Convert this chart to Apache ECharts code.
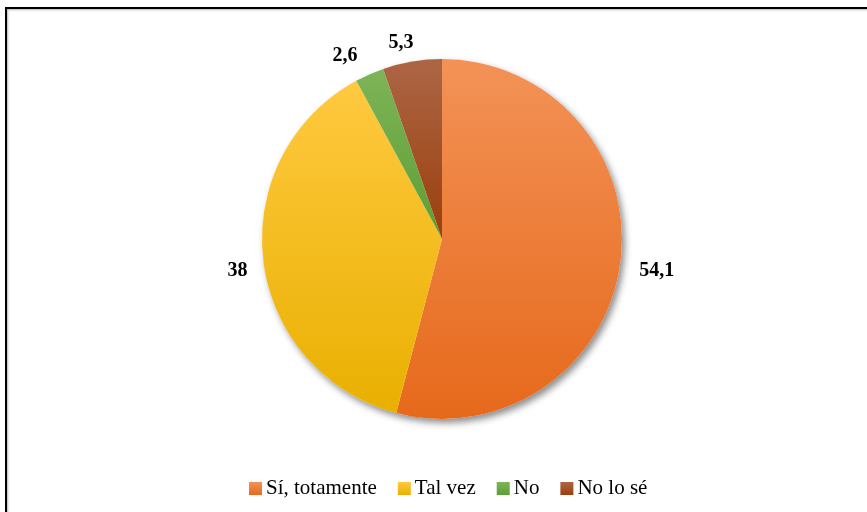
<!DOCTYPE html>
<html>
<head>
<meta charset="utf-8">
<script src="https://cdn.jsdelivr.net/npm/echarts@6/dist/echarts.min.js"></script>
<style>
  html, body { margin: 0; padding: 0; background: #fff; }
  #chart { width: 867px; height: 512px; }
  .fontwarm { position: absolute; left: -9999px; top: 0; font-family: 'Liberation Serif'; }
</style>
</head>
<body>
<span class="fontwarm">Sí, totamente <b>54,1</b></span>
<div id="chart"></div>
<script>
// Survey answers (percent), clockwise from 12 o'clock
const categories = ['Sí, totamente', 'Tal vez', 'No', 'No lo sé'];
const values = [54.1, 38, 2.6, 5.3];
const labelTexts = ['54,1', '38', '2,6', '5,3'];

// Top/bottom colour of each slice's vertical gradient
const topColors = ['#F39257', '#FFC940', '#7DB457', '#AC6645'];
const bottomColors = ['#E6691B', '#E9B000', '#5E9E34', '#9B3F0C'];

// Small nudges of the value labels away from the default outside spot
const labelNudgeX = [-8, 11, 2, 10];
const labelNudgeY = [6, 8, 2, 3];

const serif = 'Liberation Serif';
const center = [442, 239];
const radius = 180;

function grad(i) {
  return new echarts.graphic.LinearGradient(0, 0, 0, 1, [
    { offset: 0, color: topColors[i] },
    { offset: 1, color: bottomColors[i] }
  ]);
}

const slices = categories.map((name, i) => ({
  name: name,
  value: values[i],
  itemStyle: { color: grad(i) },
  label: { formatter: labelTexts[i] }
}));

const option = {
  backgroundColor: '#ffffff',
  animation: false,
  textStyle: { fontFamily: serif },
  graphic: [
    {
      type: 'rect',
      silent: true,
      shape: { x: 6, y: 8, width: 900, height: 600 },
      style: {
        fill: 'none', stroke: '#000', lineWidth: 2,
        shadowColor: 'rgba(0,0,0,0.3)', shadowBlur: 2, shadowOffsetX: 1, shadowOffsetY: 1
      }
    }
  ],
  legend: {
    data: categories,
    bottom: 8,
    left: 244,
    icon: 'rect',
    itemWidth: 13,
    itemHeight: 13,
    itemGap: 21,
    textStyle: { fontFamily: serif, fontSize: 21, color: '#000', padding: [0, 0, 0, -1] }
  },
  series: [
    {
      // soft drop shadow under the whole disc
      type: 'pie',
      silent: true,
      center: center,
      radius: radius,
      legendHoverLink: false,
      label: { show: false },
      labelLine: { show: false },
      itemStyle: {
        color: '#ffffff',
        shadowColor: 'rgba(0,0,0,0.45)', shadowBlur: 7, shadowOffsetX: 3, shadowOffsetY: 4
      },
      data: [{ name: '', value: 1 }],
      z: 1
    },
    {
      type: 'pie',
      center: center,
      radius: radius,
      startAngle: 90,
      clockwise: true,
      avoidLabelOverlap: false,
      label: {
        show: true,
        position: 'outside',
        fontFamily: serif,
        fontSize: 20,
        fontWeight: 'bold',
        color: '#000'
      },
      labelLine: { show: false, length: 22, length2: 0 },
      labelLayout: function (p) {
        return { dx: labelNudgeX[p.dataIndex], dy: labelNudgeY[p.dataIndex] };
      },
      itemStyle: { borderWidth: 0 },
      emphasis: { scale: false },
      data: slices,
      z: 2
    }
  ]
};

const chart = echarts.init(document.getElementById('chart'), null, { renderer: 'canvas' });
chart.setOption(option);

// redraw once the serif face is ready so text is measured with it
if (document.fonts && document.fonts.load) {
  Promise.all([
    document.fonts.load('21px "Liberation Serif"'),
    document.fonts.load('bold 20px "Liberation Serif"')
  ]).then(function () {
    chart.clear();
    chart.setOption(option);
  });
}
</script>
</body>
</html>
